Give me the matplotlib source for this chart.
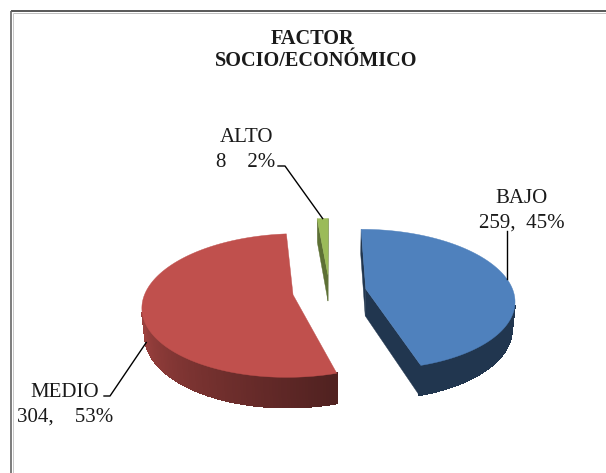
import numpy as np
import matplotlib
matplotlib.use('Agg')
import matplotlib.pyplot as plt
from matplotlib.patches import Polygon
from matplotlib.colors import to_rgb

# ---------------- data ----------------
categories = ['BAJO', 'MEDIO', 'ALTO']
values = [259, 304, 8]
percents = [45, 53, 2]
label_line2 = ['259,  45%', '304,    53%', '8    2%']
colors = ['#4F81BD', '#C0504D', '#9BBB59']
title_lines = ['FACTOR', 'SOCIO/ECONÓMICO']

# ---------------- figure ----------------
W, H = 606, 473
fig = plt.figure(figsize=(W / 100, H / 100), dpi=100)
ax = fig.add_axes([0, 0, 1, 1])
ax.set_xlim(0, W)
ax.set_ylim(H, 0)
ax.axis('off')
plt.rcParams['font.family'] = ['Liberation Serif', 'DejaVu Serif']

# ---------------- 3D projection ----------------
S = 147.5
ALPHA = np.radians(28.0)
D = 5.96
EXPL = 0.25
HGT = 0.21
CX, CY = 329.5, 291.5
sa, ca = np.sin(ALPHA), np.cos(ALPHA)
cam = np.array([0.0, -D * ca, D * sa])


def proj(X, Y, Z):
    X = np.asarray(X, float)
    Y = np.asarray(Y, float)
    Z = np.asarray(Z, float)
    v = Y * sa + Z * ca
    depth = D + Y * ca - Z * sa
    return CX + S * D * X / depth, CY - S * D * v / depth


def shade(c, f):
    r, g, b = to_rgb(c)
    return (min(1, r * f), min(1, g * f), min(1, b * f))


def wall_factor(th):
    return 0.42 + 0.43 * np.clip((th - 165.0) / 100.0, 0, 1)


total = float(sum(values))
fracs = np.array(values) / total
ends = np.cumsum(fracs) * 360.0
starts = np.concatenate([[0.0], ends[:-1]])

slices = []
for i in range(len(values)):
    th0, th1 = starts[i], ends[i]
    mid = 0.5 * (th0 + th1)
    ox = EXPL * np.sin(np.radians(mid))
    oy = EXPL * np.cos(np.radians(mid))
    slices.append((i, th0, th1, mid, ox, oy))

# draw far slices first
order = sorted(slices, key=lambda s: -s[5])

for (i, th0, th1, mid, ox, oy) in order:
    col = colors[i]
    n = max(4, int((th1 - th0) / 1.0) + 2)
    th = np.linspace(th0, th1, n)
    tr = np.radians(th)
    ax_x = ox + np.sin(tr)
    ax_y = oy + np.cos(tr)

    # radial walls
    for edge_th, nth in ((th0, th0 - 90.0), (th1, th1 + 90.0)):
        er = np.radians(edge_th)
        nr = np.radians(nth)
        nvec = np.array([np.sin(nr), np.cos(nr), 0.0])
        p = np.array([ox + 0.5 * np.sin(er), oy + 0.5 * np.cos(er), -HGT / 2])
        if np.dot(nvec, cam - p) > 0:
            xs = [ox, ox + np.sin(er), ox + np.sin(er), ox]
            ys = [oy, oy + np.cos(er), oy + np.cos(er), oy]
            zs = [0, 0, -HGT, -HGT]
            px, py = proj(xs, ys, zs)
            fc = shade(col, 0.42 if i != 2 else 0.6)
            ax.add_patch(Polygon(np.column_stack([px, py]), closed=True,
                                 facecolor=fc, edgecolor=fc, lw=0.3, zorder=2))

    # outer curved wall: visible segments
    vis = []
    for k in range(n - 1):
        tm = 0.5 * (tr[k] + tr[k + 1])
        nvec = np.array([np.sin(tm), np.cos(tm), 0.0])
        p = np.array([ox + np.sin(tm), oy + np.cos(tm), -HGT / 2])
        if np.dot(nvec, cam - p) > 0:
            vis.append(k)
    if vis:
        k0, k1 = vis[0], vis[-1] + 1
        # backing polygon to avoid seams
        bx = np.concatenate([ax_x[k0:k1 + 1], ax_x[k0:k1 + 1][::-1]])
        by = np.concatenate([ax_y[k0:k1 + 1], ax_y[k0:k1 + 1][::-1]])
        bz = np.concatenate([np.zeros(k1 - k0 + 1), -HGT * np.ones(k1 - k0 + 1)])
        px, py = proj(bx, by, bz)
        fmid = wall_factor(np.degrees(0.5 * (tr[k0] + tr[k1]))) if i != 2 else 0.6
        ax.add_patch(Polygon(np.column_stack([px, py]), closed=True,
                             facecolor=shade(col, fmid), edgecolor='none',
                             zorder=2))
        for k in vis:
            tm = 0.5 * (tr[k] + tr[k + 1])
            xs = [ax_x[k], ax_x[k + 1], ax_x[k + 1], ax_x[k]]
            ys = [ax_y[k], ax_y[k + 1], ax_y[k + 1], ax_y[k]]
            zs = [0, 0, -HGT, -HGT]
            px, py = proj(xs, ys, zs)
            fc = shade(col, wall_factor(np.degrees(tm)) if i != 2 else 0.6)
            ax.add_patch(Polygon(np.column_stack([px, py]), closed=True,
                                 facecolor=fc, edgecolor=fc, lw=0.8,
                                 antialiased=False, zorder=2.1))

    # top face
    tx = np.concatenate([[ox], ax_x])
    ty = np.concatenate([[oy], ax_y])
    px, py = proj(tx, ty, np.zeros_like(tx))
    ax.add_patch(Polygon(np.column_stack([px, py]), closed=True,
                         facecolor=col, edgecolor=col, lw=0.3, zorder=3))

# ---------------- labels and leader lines ----------------
FS = 15
label_pos = {0: (521, 203, 522, 228), 1: (65, 397, 65, 422), 2: (247, 142, 246, 167)}
for (i, th0, th1, mid, ox, oy) in slices:
    x1, y1, x2, y2 = label_pos[i]
    ax.text(x1, y1, categories[i], ha='center', va='baseline', fontsize=FS,
            color='#1a1a1a')
    ax.text(x2, y2, label_line2[i], ha='center', va='baseline', fontsize=FS,
            color='#1a1a1a')

lc = '#000000'
# BAJO
i, th0, th1, mid, ox, oy = slices[0]
mr = np.radians(mid)
ex, ey = proj(ox + np.sin(mr), oy + np.cos(mr), 0.0)
ax.plot([ex, ex], [231, ey], color=lc, lw=1.0, zorder=4)
# MEDIO
i, th0, th1, mid, ox, oy = slices[1]
mr = np.radians(mid - 8)
ex, ey = proj(ox + np.sin(mr), oy + np.cos(mr), -0.85 * HGT)
ax.plot([104, 110, ex], [396, 396, ey], color=lc, lw=1.0, zorder=4)
# ALTO
i, th0, th1, mid, ox, oy = slices[2]
mr = np.radians(mid)
ex, ey = proj(ox + np.sin(mr), oy + np.cos(mr), 0.0)
ax.plot([278, 285, ex], [166, 166, ey], color=lc, lw=1.0, zorder=4)

# ---------------- title ----------------
ax.text(313, 44.5, title_lines[0], ha='center', va='baseline', fontsize=14.6,
        fontweight='bold', color='#1a1a1a')
ax.text(316.5, 66.5, title_lines[1], ha='center', va='baseline', fontsize=14.6,
        fontweight='bold', color='#1a1a1a')

# ---------------- border ----------------
ax.plot([10.5, W], [11.5, 11.5], color='#2a2a2a', lw=1.1, solid_capstyle='butt')
ax.plot([12.5, W], [13.2, 13.2], color='#c0c0c0', lw=0.7, solid_capstyle='butt')
ax.plot([10.8, 10.8], [11, H], color='#666666', lw=1.2, solid_capstyle='butt')
ax.plot([12.6, 12.6], [13, H], color='#c8c8c8', lw=0.7, solid_capstyle='butt')

fig.savefig('out.png', dpi=100)
